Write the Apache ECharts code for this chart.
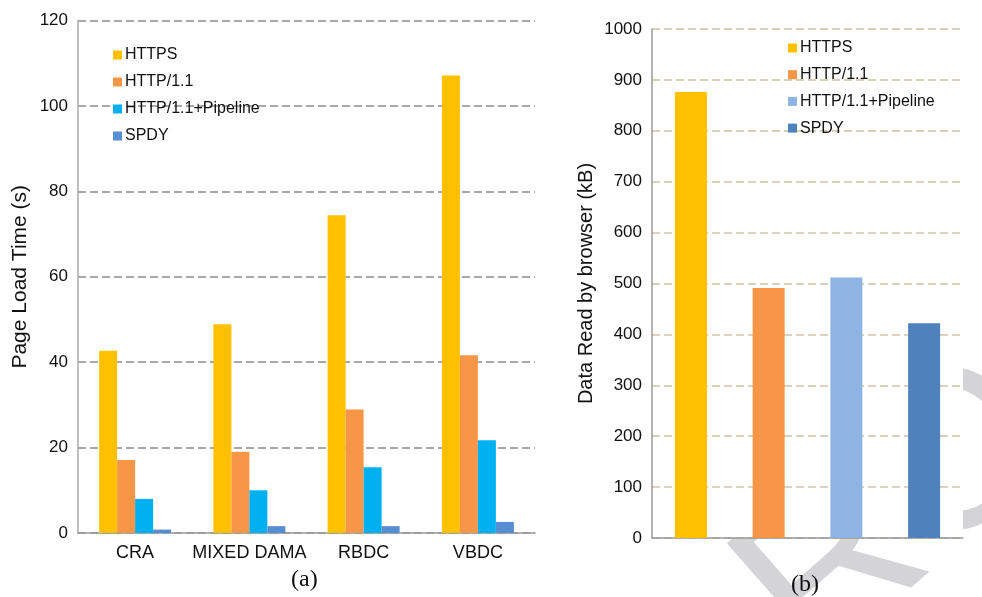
<!DOCTYPE html>
<html>
<head>
<meta charset="utf-8">
<script src="https://cdn.jsdelivr.net/npm/echarts@6/dist/echarts.min.js"></script>
<style>
    html, body { margin: 0; padding: 0; background: #fff; }
    #chart { width: 982px; height: 597px; }
</style>
</head>
<body>
<div id="chart"></div>
<script>
// (a) page load time per scheme
var schemes = ['CRA', 'MIXED DAMA', 'RBDC', 'VBDC'];
var protocols = ['HTTPS', 'HTTP/1.1', 'HTTP/1.1+Pipeline', 'SPDY'];
var httpsTime = [42.7, 48.9, 74.4, 107.1];
var http11Time = [17.1, 19.0, 28.9, 41.6];
var pipelineTime = [8.0, 10.0, 15.4, 21.7];
var spdyTime = [0.8, 1.6, 1.6, 2.6];
var loadTicks = [0, 20, 40, 60, 80, 100, 120];

// (b) data read by browser, one bar per protocol
var dataRead = [876, 491, 512, 422];
var readTicks = [0, 100, 200, 300, 400, 500, 600, 700, 800, 900, 1000];

var colorsA = ['#FFC000', '#F79646', '#00B0F0', '#558ED5'];
var colorsB = ['#FFC000', '#F79646', '#8EB4E3', '#4F81BD'];
var font = 'Liberation Sans, Arial, Helvetica, sans-serif';

var chart = echarts.init(document.getElementById('chart'));

function valueAxis(gridIndex, ticks, name, nameGap, nameSize, gridColor, lineColor) {
    return {
        type: 'value',
        gridIndex: gridIndex,
        min: ticks[0],
        max: ticks[ticks.length - 1],
        interval: ticks[1] - ticks[0],
        name: name,
        nameLocation: 'middle',
        nameGap: nameGap,
        nameTextStyle: { fontFamily: font, fontSize: nameSize, color: '#111' },
        axisLine: { show: true, lineStyle: { color: lineColor, width: 1.5 } },
        axisTick: { show: false },
        axisLabel: {
            fontFamily: font, fontSize: 17, color: '#111', margin: 10,
            formatter: function (v) { return String(v); }
        },
        splitLine: { lineStyle: { color: gridColor, width: 1.5, type: [8, 4] } }
    };
}

var seriesA = [httpsTime, http11Time, pipelineTime, spdyTime].map(function (vals, i) {
    return {
        name: protocols[i],
        type: 'bar',
        xAxisIndex: 0,
        yAxisIndex: 0,
        data: vals,
        barWidth: 18,
        barGap: '0%',
        itemStyle: { color: colorsA[i] }
    };
});

var seriesB = protocols.map(function (p, i) {
    var d = protocols.map(function (q, j) { return j === i ? dataRead[i] : '-'; });
    return {
        name: p,
        type: 'bar',
        xAxisIndex: 1,
        yAxisIndex: 1,
        data: d,
        barWidth: 32,
        barGap: '-100%',
        itemStyle: { color: colorsB[i] }
    };
});

function legendData(colors) {
    return protocols.map(function (p, i) {
        return { name: p, itemStyle: { color: colors[i] } };
    });
}

var legendBase = {
    orient: 'vertical',
    icon: 'rect',
    padding: 0,
    itemWidth: 9,
    itemHeight: 9,
    itemGap: 9,
    selectedMode: false,
    textStyle: { fontFamily: font, fontSize: 16, color: '#111', padding: [0, 0, 0, -2], lineHeight: 18 }
};

var option = {
    animation: false,
    backgroundColor: '#fff',
    grid: [
        { left: 78, top: 20.5, width: 457, height: 512.5 },
        { left: 652, top: 29, width: 311, height: 509, show: true, backgroundColor: '#fff', borderWidth: 0 }
    ],
    legend: [
        Object.assign({}, legendBase, { left: 113, top: 46, data: legendData(colorsA) }),
        Object.assign({}, legendBase, { left: 788, top: 39, itemGap: 8.7, data: legendData(colorsB) })
    ],
    xAxis: [
        {
            type: 'category',
            gridIndex: 0,
            data: schemes,
            axisLine: { lineStyle: { color: '#999', width: 1.5 } },
            axisTick: { show: false },
            axisLabel: { interval: 0, fontFamily: font, fontSize: 18, color: '#111', margin: 11 }
        },
        {
            type: 'category',
            gridIndex: 1,
            data: protocols,
            axisLine: { lineStyle: { color: '#999', width: 1.5 } },
            axisTick: { show: false },
            axisLabel: { show: false }
        }
    ],
    yAxis: [
        valueAxis(0, loadTicks, 'Page Load Time (s)', 47, 21, '#8c8c8c', '#aaa'),
        valueAxis(1, readTicks, 'Data Read by browser (kB)', 56, 20, '#cbc4a4', '#999')
    ],
    graphic: [
        {
            // faint proof watermark sitting behind the plot area
            type: 'text',
            left: 700, top: 318, rotation: 0.72, z: -10,
            style: { text: 'RO', fontFamily: 'Liberation Sans, Arial, sans-serif', fontSize: 225, fill: '#d4d4d6' }
        },
        {
            type: 'text',
            left: 291, top: 568,
            style: { text: '(a)', fontFamily: 'Liberation Serif, Times New Roman, serif', fontSize: 24, fill: '#111' }
        },
        {
            type: 'text',
            left: 791, top: 573,
            style: { text: '(b)', fontFamily: 'Liberation Serif, Times New Roman, serif', fontSize: 24, fill: '#111' }
        }
    ],
    series: seriesA.concat(seriesB)
};

chart.setOption(option);
</script>
</body>
</html>
